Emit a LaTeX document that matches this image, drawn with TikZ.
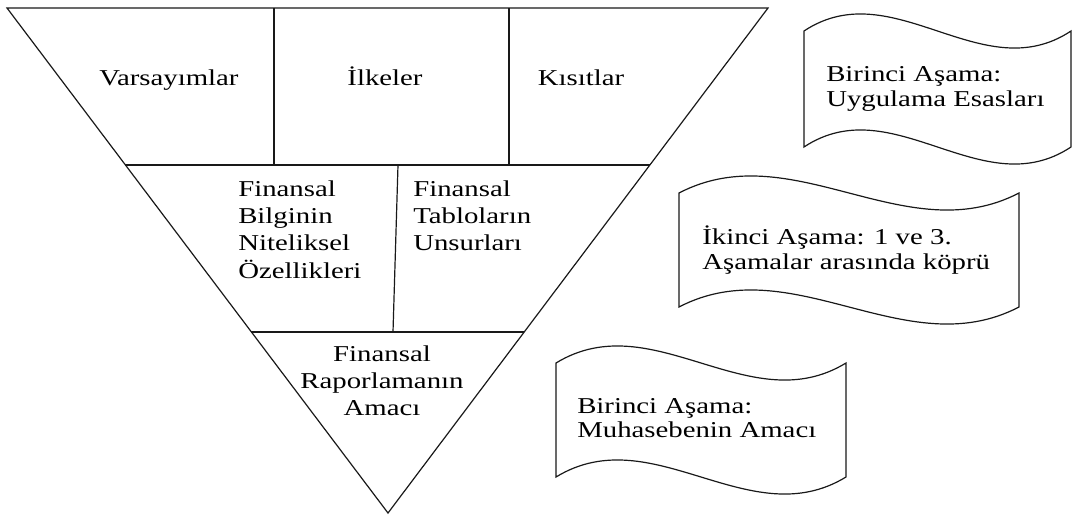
\documentclass[tikz,border=0pt]{standalone}
\usepackage{fontspec}
\setmainfont{Liberation Serif}
\usetikzlibrary{calc}
\newcommand{\wx}[1]{\scalebox{1.27}[1]{#1}}
\begin{document}
\begin{tikzpicture}[x=0.75pt,y=-0.75pt,
  edge/.style={line width=0.9pt,draw=black!90},
  tri/.style={inner sep=0pt,font=\rmfamily\fontsize{17}{20.6}\selectfont},
  flag/.style={inner sep=0pt,align=left,font=\rmfamily\fontsize{17}{18.2}\selectfont},
]
\useasboundingbox (0,0) rectangle (1072,519);
% triangle corners
\coordinate (A) at (7,8);
\coordinate (B) at (768,8);
\coordinate (C) at (388,513);
\draw[edge] (A) -- (B) -- (C) -- cycle;
% first row
\coordinate (r1l) at ($(A)!157/505!(C)$);
\coordinate (r1r) at ($(B)!157/505!(C)$);
\draw[edge] (r1l) -- (r1r);
\coordinate (d1t) at (274,8);
\coordinate (d1b) at (274,165);
\coordinate (d2t) at (509,8);
\coordinate (d2b) at (509,165);
\draw[edge] (d1t) -- (d1b);
\draw[edge] (d2t) -- (d2b);
% second row
\coordinate (r2l) at ($(A)!324/505!(C)$);
\coordinate (r2r) at ($(B)!324/505!(C)$);
\draw[edge] (r2l) -- (r2r);
\coordinate (d3t) at (398,165);
\coordinate (d3b) at (393,332);
\draw[edge] (d3t) -- (d3b);
% texts in triangle
\node[tri,anchor=base] (varsay) at (169,85) {\wx{Varsayımlar}};
\node[tri,anchor=base] (ilke) at (385,85) {\wx{İlkeler}};
\node[tri,anchor=base] (kisit) at (581,85) {\wx{Kısıtlar}};
\node[tri,anchor=north west,align=left] (nitel) at (238,180) {\wx{Finansal}\\\wx{Bilginin}\\\wx{Niteliksel}\\\wx{Özellikleri}};
\node[tri,anchor=north west,align=left] (unsur) at (413,180) {\wx{Finansal}\\\wx{Tabloların}\\\wx{Unsurları}};
\node[tri,anchor=north,align=center] (amac) at (382,345) {\wx{Finansal}\\\wx{Raporlamanın}\\\wx{Amacı}};
% wave boxes
\newcommand{\tapeshape}[4]{%
  \draw[edge] (#1,#2) .. controls ({#1+(#3-#1)/3},{#2-59}) and ({#1+2*(#3-#1)/3},{#2+59}) .. (#3,#2)
    -- (#3,#4) .. controls ({#1+2*(#3-#1)/3},{#4+59}) and ({#1+(#3-#1)/3},{#4-59}) .. (#1,#4) -- cycle;}
\tapeshape{804}{31}{1071}{147}
\tapeshape{679}{193}{1019}{307}
\tapeshape{556}{363}{846}{477}
\node[flag,anchor=north west] (asama1) at (826,66.5) {\wx{Birinci Aşama:}\\\wx{Uygulama Esasları}};
\node[flag,anchor=north west] (asama2) at (702,226) {\wx{İkinci Aşama: 1 ve 3.}\\\wx{Aşamalar arasında köprü}};
\node[flag,anchor=north west] (asama3) at (577,398) {\wx{Birinci Aşama:}\\\wx{Muhasebenin Amacı}};
\end{tikzpicture}
\end{document}
